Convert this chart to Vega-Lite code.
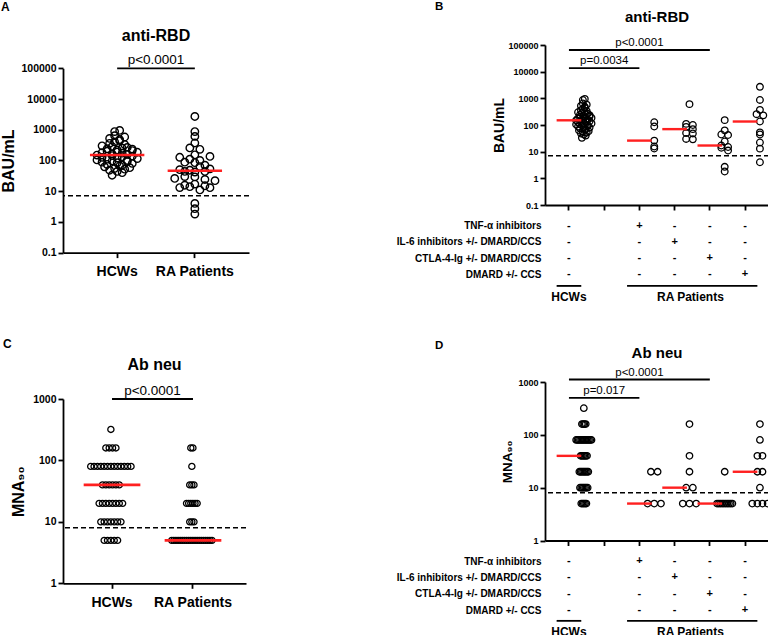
{
 "$schema": "https://vega.github.io/schema/vega-lite/v6.json",
 "background": "white",
 "padding": {"left": 0, "top": 0, "right": 0, "bottom": 0},
 "config": {
  "font": "Liberation Sans",
  "view": {"stroke": null},
  "axis": {"grid": false, "domainColor": "#000000", "domainWidth": 1.8, "tickColor": "#000000", "tickWidth": 1.8, "tickSize": 5, "labelColor": "#000000", "labelFontWeight": "bold", "titleColor": "#000000", "titleFontWeight": "bold", "labelOverlap": false, "labelFlush": false},
  "title": {"color": "#000000", "fontWeight": "bold"},
  "text": {"color": "#000000"}
 },
 "datasets": {
  "rbd": [
   {"cohort": "HCWs", "therapy": "HCWs", "value": 150}, {"cohort": "HCWs", "therapy": "HCWs", "value": 62}, {"cohort": "HCWs", "therapy": "HCWs", "value": 300}, {"cohort": "HCWs", "therapy": "HCWs", "value": 104}, {"cohort": "HCWs", "therapy": "HCWs", "value": 870}, {"cohort": "HCWs", "therapy": "HCWs", "value": 180}, {"cohort": "HCWs", "therapy": "HCWs", "value": 48}, {"cohort": "HCWs", "therapy": "HCWs", "value": 126}, {"cohort": "HCWs", "therapy": "HCWs", "value": 240}, {"cohort": "HCWs", "therapy": "HCWs", "value": 88},
   {"cohort": "HCWs", "therapy": "HCWs", "value": 360}, {"cohort": "HCWs", "therapy": "HCWs", "value": 110}, {"cohort": "HCWs", "therapy": "HCWs", "value": 33}, {"cohort": "HCWs", "therapy": "HCWs", "value": 200}, {"cohort": "HCWs", "therapy": "HCWs", "value": 75}, {"cohort": "HCWs", "therapy": "HCWs", "value": 520}, {"cohort": "HCWs", "therapy": "HCWs", "value": 144}, {"cohort": "HCWs", "therapy": "HCWs", "value": 165}, {"cohort": "HCWs", "therapy": "HCWs", "value": 55}, {"cohort": "HCWs", "therapy": "HCWs", "value": 280},
   {"cohort": "HCWs", "therapy": "HCWs", "value": 96}, {"cohort": "HCWs", "therapy": "HCWs", "value": 190}, {"cohort": "HCWs", "therapy": "HCWs", "value": 400}, {"cohort": "HCWs", "therapy": "HCWs", "value": 120}, {"cohort": "HCWs", "therapy": "HCWs", "value": 66}, {"cohort": "HCWs", "therapy": "HCWs", "value": 950}, {"cohort": "HCWs", "therapy": "HCWs", "value": 132}, {"cohort": "HCWs", "therapy": "HCWs", "value": 220}, {"cohort": "HCWs", "therapy": "HCWs", "value": 84}, {"cohort": "HCWs", "therapy": "HCWs", "value": 172},
   {"cohort": "HCWs", "therapy": "HCWs", "value": 52}, {"cohort": "HCWs", "therapy": "HCWs", "value": 440}, {"cohort": "HCWs", "therapy": "HCWs", "value": 100}, {"cohort": "HCWs", "therapy": "HCWs", "value": 250}, {"cohort": "HCWs", "therapy": "HCWs", "value": 158}, {"cohort": "HCWs", "therapy": "HCWs", "value": 70}, {"cohort": "HCWs", "therapy": "HCWs", "value": 640}, {"cohort": "HCWs", "therapy": "HCWs", "value": 138}, {"cohort": "HCWs", "therapy": "HCWs", "value": 44}, {"cohort": "HCWs", "therapy": "HCWs", "value": 210},
   {"cohort": "HCWs", "therapy": "HCWs", "value": 92}, {"cohort": "HCWs", "therapy": "HCWs", "value": 330}, {"cohort": "HCWs", "therapy": "HCWs", "value": 115}, {"cohort": "HCWs", "therapy": "HCWs", "value": 185}, {"cohort": "HCWs", "therapy": "HCWs", "value": 58}, {"cohort": "HCWs", "therapy": "HCWs", "value": 480}, {"cohort": "HCWs", "therapy": "HCWs", "value": 265}, {"cohort": "HCWs", "therapy": "HCWs", "value": 80}, {"cohort": "HCWs", "therapy": "HCWs", "value": 235}, {"cohort": "HCWs", "therapy": "HCWs", "value": 40},
   {"cohort": "HCWs", "therapy": "HCWs", "value": 580},
   {"cohort": "RA Patients", "therapy": "TNF-α inhibitors", "value": 127}, {"cohort": "RA Patients", "therapy": "TNF-α inhibitors", "value": 88}, {"cohort": "RA Patients", "therapy": "TNF-α inhibitors", "value": 26}, {"cohort": "RA Patients", "therapy": "TNF-α inhibitors", "value": 15.6}, {"cohort": "RA Patients", "therapy": "TNF-α inhibitors", "value": 13.1},
   {"cohort": "RA Patients", "therapy": "IL-6 inhibitors +/- DMARD/CCS", "value": 605}, {"cohort": "RA Patients", "therapy": "IL-6 inhibitors +/- DMARD/CCS", "value": 110}, {"cohort": "RA Patients", "therapy": "IL-6 inhibitors +/- DMARD/CCS", "value": 100}, {"cohort": "RA Patients", "therapy": "IL-6 inhibitors +/- DMARD/CCS", "value": 85}, {"cohort": "RA Patients", "therapy": "IL-6 inhibitors +/- DMARD/CCS", "value": 70}, {"cohort": "RA Patients", "therapy": "IL-6 inhibitors +/- DMARD/CCS", "value": 50}, {"cohort": "RA Patients", "therapy": "IL-6 inhibitors +/- DMARD/CCS", "value": 48}, {"cohort": "RA Patients", "therapy": "IL-6 inhibitors +/- DMARD/CCS", "value": 30}, {"cohort": "RA Patients", "therapy": "IL-6 inhibitors +/- DMARD/CCS", "value": 29},
   {"cohort": "RA Patients", "therapy": "CTLA-4-Ig +/- DMARD/CCS", "value": 152}, {"cohort": "RA Patients", "therapy": "CTLA-4-Ig +/- DMARD/CCS", "value": 63}, {"cohort": "RA Patients", "therapy": "CTLA-4-Ig +/- DMARD/CCS", "value": 44}, {"cohort": "RA Patients", "therapy": "CTLA-4-Ig +/- DMARD/CCS", "value": 42}, {"cohort": "RA Patients", "therapy": "CTLA-4-Ig +/- DMARD/CCS", "value": 24}, {"cohort": "RA Patients", "therapy": "CTLA-4-Ig +/- DMARD/CCS", "value": 17}, {"cohort": "RA Patients", "therapy": "CTLA-4-Ig +/- DMARD/CCS", "value": 15}, {"cohort": "RA Patients", "therapy": "CTLA-4-Ig +/- DMARD/CCS", "value": 14}, {"cohort": "RA Patients", "therapy": "CTLA-4-Ig +/- DMARD/CCS", "value": 11}, {"cohort": "RA Patients", "therapy": "CTLA-4-Ig +/- DMARD/CCS", "value": 2.7}, {"cohort": "RA Patients", "therapy": "CTLA-4-Ig +/- DMARD/CCS", "value": 1.8},
   {"cohort": "RA Patients", "therapy": "DMARD +/- CCS", "value": 2700}, {"cohort": "RA Patients", "therapy": "DMARD +/- CCS", "value": 870}, {"cohort": "RA Patients", "therapy": "DMARD +/- CCS", "value": 370}, {"cohort": "RA Patients", "therapy": "DMARD +/- CCS", "value": 255}, {"cohort": "RA Patients", "therapy": "DMARD +/- CCS", "value": 230}, {"cohort": "RA Patients", "therapy": "DMARD +/- CCS", "value": 135}, {"cohort": "RA Patients", "therapy": "DMARD +/- CCS", "value": 53}, {"cohort": "RA Patients", "therapy": "DMARD +/- CCS", "value": 44}, {"cohort": "RA Patients", "therapy": "DMARD +/- CCS", "value": 22}, {"cohort": "RA Patients", "therapy": "DMARD +/- CCS", "value": 13}, {"cohort": "RA Patients", "therapy": "DMARD +/- CCS", "value": 4}
  ],
  "mna": [
   {"cohort": "HCWs", "therapy": "HCWs", "value": 320},
   {"cohort": "HCWs", "therapy": "HCWs", "value": 160}, {"cohort": "HCWs", "therapy": "HCWs", "value": 160}, {"cohort": "HCWs", "therapy": "HCWs", "value": 160}, {"cohort": "HCWs", "therapy": "HCWs", "value": 160},
   {"cohort": "HCWs", "therapy": "HCWs", "value": 80}, {"cohort": "HCWs", "therapy": "HCWs", "value": 80}, {"cohort": "HCWs", "therapy": "HCWs", "value": 80}, {"cohort": "HCWs", "therapy": "HCWs", "value": 80}, {"cohort": "HCWs", "therapy": "HCWs", "value": 80}, {"cohort": "HCWs", "therapy": "HCWs", "value": 80}, {"cohort": "HCWs", "therapy": "HCWs", "value": 80}, {"cohort": "HCWs", "therapy": "HCWs", "value": 80}, {"cohort": "HCWs", "therapy": "HCWs", "value": 80}, {"cohort": "HCWs", "therapy": "HCWs", "value": 80}, {"cohort": "HCWs", "therapy": "HCWs", "value": 80}, {"cohort": "HCWs", "therapy": "HCWs", "value": 80}, {"cohort": "HCWs", "therapy": "HCWs", "value": 80},
   {"cohort": "HCWs", "therapy": "HCWs", "value": 40}, {"cohort": "HCWs", "therapy": "HCWs", "value": 40}, {"cohort": "HCWs", "therapy": "HCWs", "value": 40}, {"cohort": "HCWs", "therapy": "HCWs", "value": 40}, {"cohort": "HCWs", "therapy": "HCWs", "value": 40}, {"cohort": "HCWs", "therapy": "HCWs", "value": 40},
   {"cohort": "HCWs", "therapy": "HCWs", "value": 20}, {"cohort": "HCWs", "therapy": "HCWs", "value": 20}, {"cohort": "HCWs", "therapy": "HCWs", "value": 20}, {"cohort": "HCWs", "therapy": "HCWs", "value": 20}, {"cohort": "HCWs", "therapy": "HCWs", "value": 20}, {"cohort": "HCWs", "therapy": "HCWs", "value": 20}, {"cohort": "HCWs", "therapy": "HCWs", "value": 20}, {"cohort": "HCWs", "therapy": "HCWs", "value": 20},
   {"cohort": "HCWs", "therapy": "HCWs", "value": 10}, {"cohort": "HCWs", "therapy": "HCWs", "value": 10}, {"cohort": "HCWs", "therapy": "HCWs", "value": 10}, {"cohort": "HCWs", "therapy": "HCWs", "value": 10}, {"cohort": "HCWs", "therapy": "HCWs", "value": 10}, {"cohort": "HCWs", "therapy": "HCWs", "value": 10}, {"cohort": "HCWs", "therapy": "HCWs", "value": 10},
   {"cohort": "HCWs", "therapy": "HCWs", "value": 5}, {"cohort": "HCWs", "therapy": "HCWs", "value": 5}, {"cohort": "HCWs", "therapy": "HCWs", "value": 5}, {"cohort": "HCWs", "therapy": "HCWs", "value": 5}, {"cohort": "HCWs", "therapy": "HCWs", "value": 5},
   {"cohort": "RA Patients", "therapy": "TNF-α inhibitors", "value": 20}, {"cohort": "RA Patients", "therapy": "TNF-α inhibitors", "value": 20}, {"cohort": "RA Patients", "therapy": "TNF-α inhibitors", "value": 5}, {"cohort": "RA Patients", "therapy": "TNF-α inhibitors", "value": 5}, {"cohort": "RA Patients", "therapy": "TNF-α inhibitors", "value": 5},
   {"cohort": "RA Patients", "therapy": "IL-6 inhibitors +/- DMARD/CCS", "value": 160}, {"cohort": "RA Patients", "therapy": "IL-6 inhibitors +/- DMARD/CCS", "value": 40}, {"cohort": "RA Patients", "therapy": "IL-6 inhibitors +/- DMARD/CCS", "value": 20}, {"cohort": "RA Patients", "therapy": "IL-6 inhibitors +/- DMARD/CCS", "value": 10}, {"cohort": "RA Patients", "therapy": "IL-6 inhibitors +/- DMARD/CCS", "value": 10}, {"cohort": "RA Patients", "therapy": "IL-6 inhibitors +/- DMARD/CCS", "value": 5}, {"cohort": "RA Patients", "therapy": "IL-6 inhibitors +/- DMARD/CCS", "value": 5}, {"cohort": "RA Patients", "therapy": "IL-6 inhibitors +/- DMARD/CCS", "value": 5},
   {"cohort": "RA Patients", "therapy": "CTLA-4-Ig +/- DMARD/CCS", "value": 20}, {"cohort": "RA Patients", "therapy": "CTLA-4-Ig +/- DMARD/CCS", "value": 5}, {"cohort": "RA Patients", "therapy": "CTLA-4-Ig +/- DMARD/CCS", "value": 5}, {"cohort": "RA Patients", "therapy": "CTLA-4-Ig +/- DMARD/CCS", "value": 5}, {"cohort": "RA Patients", "therapy": "CTLA-4-Ig +/- DMARD/CCS", "value": 5}, {"cohort": "RA Patients", "therapy": "CTLA-4-Ig +/- DMARD/CCS", "value": 5}, {"cohort": "RA Patients", "therapy": "CTLA-4-Ig +/- DMARD/CCS", "value": 5}, {"cohort": "RA Patients", "therapy": "CTLA-4-Ig +/- DMARD/CCS", "value": 5}, {"cohort": "RA Patients", "therapy": "CTLA-4-Ig +/- DMARD/CCS", "value": 5}, {"cohort": "RA Patients", "therapy": "CTLA-4-Ig +/- DMARD/CCS", "value": 5}, {"cohort": "RA Patients", "therapy": "CTLA-4-Ig +/- DMARD/CCS", "value": 5},
   {"cohort": "RA Patients", "therapy": "DMARD +/- CCS", "value": 160}, {"cohort": "RA Patients", "therapy": "DMARD +/- CCS", "value": 80}, {"cohort": "RA Patients", "therapy": "DMARD +/- CCS", "value": 40}, {"cohort": "RA Patients", "therapy": "DMARD +/- CCS", "value": 40}, {"cohort": "RA Patients", "therapy": "DMARD +/- CCS", "value": 20}, {"cohort": "RA Patients", "therapy": "DMARD +/- CCS", "value": 20}, {"cohort": "RA Patients", "therapy": "DMARD +/- CCS", "value": 10}, {"cohort": "RA Patients", "therapy": "DMARD +/- CCS", "value": 5}, {"cohort": "RA Patients", "therapy": "DMARD +/- CCS", "value": 5}, {"cohort": "RA Patients", "therapy": "DMARD +/- CCS", "value": 5}, {"cohort": "RA Patients", "therapy": "DMARD +/- CCS", "value": 5}
  ],
  "sigA": [{"from": "HCWs", "to": "RA Patients", "value": 100000, "p": "p<0.0001"}],
  "sigB": [{"from": "HCWs", "to": "CTLA-4-Ig +/- DMARD/CCS", "mid": "TNF-α inhibitors", "value": 65000, "p": "p<0.0001"}, {"from": "HCWs", "to": "TNF-α inhibitors", "mid": " ", "value": 13600, "p": "p=0.0034"}],
  "sigC": [{"from": "HCWs", "to": "RA Patients", "value": 1000, "p": "p<0.0001"}],
  "sigD": [{"from": "HCWs", "to": "CTLA-4-Ig +/- DMARD/CCS", "mid": "TNF-α inhibitors", "value": 1115, "p": "p<0.0001"}, {"from": "HCWs", "to": "TNF-α inhibitors", "mid": " ", "value": 500, "p": "p=0.017"}],
  "signs": [
   {"row": "TNF-α inhibitors", "col": "HCWs", "sign": "-"}, {"row": "TNF-α inhibitors", "col": "TNF-α inhibitors", "sign": "+"}, {"row": "TNF-α inhibitors", "col": "IL-6 inhibitors +/- DMARD/CCS", "sign": "-"}, {"row": "TNF-α inhibitors", "col": "CTLA-4-Ig +/- DMARD/CCS", "sign": "-"}, {"row": "TNF-α inhibitors", "col": "DMARD +/- CCS", "sign": "-"},
   {"row": "IL-6 inhibitors +/- DMARD/CCS", "col": "HCWs", "sign": "-"}, {"row": "IL-6 inhibitors +/- DMARD/CCS", "col": "TNF-α inhibitors", "sign": "-"}, {"row": "IL-6 inhibitors +/- DMARD/CCS", "col": "IL-6 inhibitors +/- DMARD/CCS", "sign": "+"}, {"row": "IL-6 inhibitors +/- DMARD/CCS", "col": "CTLA-4-Ig +/- DMARD/CCS", "sign": "-"}, {"row": "IL-6 inhibitors +/- DMARD/CCS", "col": "DMARD +/- CCS", "sign": "-"},
   {"row": "CTLA-4-Ig +/- DMARD/CCS", "col": "HCWs", "sign": "-"}, {"row": "CTLA-4-Ig +/- DMARD/CCS", "col": "TNF-α inhibitors", "sign": "-"}, {"row": "CTLA-4-Ig +/- DMARD/CCS", "col": "IL-6 inhibitors +/- DMARD/CCS", "sign": "-"}, {"row": "CTLA-4-Ig +/- DMARD/CCS", "col": "CTLA-4-Ig +/- DMARD/CCS", "sign": "+"}, {"row": "CTLA-4-Ig +/- DMARD/CCS", "col": "DMARD +/- CCS", "sign": "-"},
   {"row": "DMARD +/- CCS", "col": "HCWs", "sign": "-"}, {"row": "DMARD +/- CCS", "col": "TNF-α inhibitors", "sign": "-"}, {"row": "DMARD +/- CCS", "col": "IL-6 inhibitors +/- DMARD/CCS", "sign": "-"}, {"row": "DMARD +/- CCS", "col": "CTLA-4-Ig +/- DMARD/CCS", "sign": "-"}, {"row": "DMARD +/- CCS", "col": "DMARD +/- CCS", "sign": "+"}
  ],
  "cohorts": [
   {"row": "cohort", "col": "HCWs", "col2": "HCWs", "label": "HCWs"},
   {"row": "cohort", "col": "TNF-α inhibitors", "col2": "DMARD +/- CCS", "label": "RA Patients"}
  ]
 },
 "spacing": 146,
 "hconcat": [
  {
   "spacing": 59,
   "vconcat": [
    {
     "title": {"text": "A", "anchor": "start", "frame": "group", "fontSize": 12, "offset": 14, "dx": -62},
     "vconcat": [{
      "width": 186, "height": 207.6,
      "title": {"text": "anti-RBD", "fontSize": 16, "offset": 1},
      "encoding": {"y": {"field": "value", "type": "quantitative", "scale": {"type": "log", "domain": [0.1, 100000], "range": [207.6, 23.3], "nice": false}, "axis": {"title": "BAU/mL", "titleFontSize": 16, "titlePadding": 4, "values": [0.1, 1, 10, 100, 1000, 10000, 100000], "format": "~g", "labelFontSize": 10.5, "labelPadding": 2}}},
      "layer": [
       {"data": {"values": [{"value": 7.1}]}, "mark": {"type": "rule", "strokeDash": [5, 3], "strokeWidth": 1.5, "color": "#000000"}, "encoding": {}},
       {"data": {"name": "rbd"},
        "transform": [
         {"calculate": "floor(log(datum.value) / LN10 * 6)", "as": "bin"},
         {"window": [{"op": "row_number", "as": "k"}, {"op": "count", "as": "n"}], "groupby": ["cohort", "bin"], "frame": [null, null]},
         {"joinaggregate": [{"op": "max", "field": "n", "as": "maxn"}], "groupby": ["cohort"]},
         {"calculate": "(datum.k - (datum.n + 1) / 2) * min(11, 42 / max(1, datum.maxn - 1))", "as": "off"}
        ],
        "mark": {"type": "point", "shape": "circle", "filled": false, "color": "#000000", "strokeWidth": 1.4, "size": 55, "opacity": 1},
        "encoding": {
         "x": {"field": "cohort", "type": "nominal", "scale": {"domain": ["HCWs", "RA Patients"], "paddingInner": 0.3, "paddingOuter": 0.347}, "axis": {"title": null, "labelFontSize": 14, "labelPadding": 7, "labelAngle": 0}},
         "xOffset": {"field": "off", "type": "quantitative", "scale": {"domain": [-27.2, 27.2], "range": [0, 54.4]}}
        }},
       {"data": {"name": "rbd"},
        "transform": [{"aggregate": [{"op": "median", "field": "value", "as": "value"}], "groupby": ["cohort"]}],
        "mark": {"type": "rule", "color": "#ff2020", "strokeWidth": 2.6},
        "encoding": {
         "x": {"field": "cohort", "type": "nominal", "bandPosition": 0, "scale": {"domain": ["HCWs", "RA Patients"], "paddingInner": 0.3, "paddingOuter": 0.347}, "axis": {"title": null, "labelFontSize": 14, "labelPadding": 7, "labelAngle": 0}},
         "x2": {"field": "cohort", "bandPosition": 1}
        }},
       {"data": {"name": "sigA"}, "mark": {"type": "rule", "color": "#000000", "strokeWidth": 1.8},
        "encoding": {
         "x": {"field": "from", "type": "nominal", "scale": {"domain": ["HCWs", "RA Patients"], "paddingInner": 0.3, "paddingOuter": 0.347}, "axis": {"title": null, "labelFontSize": 14, "labelPadding": 7, "labelAngle": 0}},
         "x2": {"field": "to"}
        }},
       {"data": {"name": "sigA"}, "mark": {"type": "text", "fontSize": 13.5, "dy": -4, "baseline": "alphabetic"},
        "encoding": {
         "x": {"field": "from", "type": "nominal", "bandPosition": 1.215, "scale": {"domain": ["HCWs", "RA Patients"], "paddingInner": 0.3, "paddingOuter": 0.347}, "axis": {"title": null, "labelFontSize": 14, "labelPadding": 7, "labelAngle": 0}},
         "text": {"field": "p"}
        }}
      ]
     }]
    },
    {
     "title": {"text": "C", "anchor": "start", "frame": "group", "fontSize": 12, "offset": 6, "dx": -60},
     "vconcat": [{
      "width": 183, "height": 184.3,
      "title": {"text": "Ab neu", "fontSize": 16, "offset": 11},
      "encoding": {"y": {"field": "value", "type": "quantitative", "scale": {"type": "log", "domain": [1, 1000], "nice": false}, "axis": {"title": "MNA₉₀", "titleFontSize": 16, "titlePadding": 6, "values": [1, 10, 100, 1000], "format": "~g", "labelFontSize": 10.5, "labelPadding": 2}}},
      "layer": [
       {"data": {"values": [{"value": 8}]}, "mark": {"type": "rule", "strokeDash": [5, 3], "strokeWidth": 1.5, "color": "#000000"}, "encoding": {}},
       {"data": {"name": "mna"},
        "transform": [
         {"window": [{"op": "row_number", "as": "k"}, {"op": "count", "as": "n"}], "groupby": ["cohort", "value"], "frame": [null, null]},
         {"joinaggregate": [{"op": "max", "field": "n", "as": "maxn"}], "groupby": ["cohort"]},
         {"calculate": "(datum.k - (datum.n + 1) / 2) * min(3.8, 42 / max(1, datum.maxn - 1))", "as": "off"}
        ],
        "mark": {"type": "point", "shape": "circle", "filled": false, "color": "#000000", "strokeWidth": 1.3, "size": 38, "opacity": 1},
        "encoding": {
         "x": {"field": "cohort", "type": "nominal", "scale": {"domain": ["HCWs", "RA Patients"], "paddingInner": 0.3, "paddingOuter": 0.28, "align": 0.456}, "axis": {"title": null, "labelFontSize": 14, "labelPadding": 7, "labelAngle": 0}},
         "xOffset": {"field": "off", "type": "quantitative", "scale": {"domain": [-28.35, 28.35], "range": [0, 56.7]}}
        }},
       {"data": {"name": "mna"},
        "transform": [{"aggregate": [{"op": "median", "field": "value", "as": "value"}], "groupby": ["cohort"]}],
        "mark": {"type": "rule", "color": "#ff2020", "strokeWidth": 2.6},
        "encoding": {
         "x": {"field": "cohort", "type": "nominal", "bandPosition": 0, "scale": {"domain": ["HCWs", "RA Patients"], "paddingInner": 0.3, "paddingOuter": 0.28, "align": 0.456}, "axis": {"title": null, "labelFontSize": 14, "labelPadding": 7, "labelAngle": 0}},
         "x2": {"field": "cohort", "bandPosition": 1}
        }},
       {"data": {"name": "sigC"}, "mark": {"type": "rule", "color": "#000000", "strokeWidth": 1.8},
        "encoding": {
         "x": {"field": "from", "type": "nominal", "scale": {"domain": ["HCWs", "RA Patients"], "paddingInner": 0.3, "paddingOuter": 0.28, "align": 0.456}, "axis": {"title": null, "labelFontSize": 14, "labelPadding": 7, "labelAngle": 0}},
         "x2": {"field": "to"}
        }},
       {"data": {"name": "sigC"}, "mark": {"type": "text", "fontSize": 13.5, "dy": -4, "baseline": "alphabetic"},
        "encoding": {
         "x": {"field": "from", "type": "nominal", "bandPosition": 1.214, "scale": {"domain": ["HCWs", "RA Patients"], "paddingInner": 0.3, "paddingOuter": 0.28, "align": 0.456}, "axis": {"title": null, "labelFontSize": 14, "labelPadding": 7, "labelAngle": 0}},
         "text": {"field": "p"}
        }}
      ]
     }]
    }
   ]
  },
  {
   "spacing": 36,
   "vconcat": [
    {
     "title": {"text": "B", "anchor": "start", "frame": "group", "fontSize": 11.5, "offset": -2, "dx": -110},
     "spacing": 6.5,
     "vconcat": [
      {
       "width": 224, "height": 160,
       "title": {"text": "anti-RBD", "fontSize": 15, "offset": 11.7},
       "encoding": {"y": {"field": "value", "type": "quantitative", "scale": {"type": "log", "domain": [0.1, 100000], "nice": false}, "axis": {"title": "BAU/mL", "titleFontSize": 14, "titlePadding": 1, "values": [0.1, 1, 10, 100, 1000, 10000, 100000], "format": "~g", "labelFontSize": 9, "labelPadding": 2}}},
       "layer": [
        {"data": {"values": [{"value": 7.1}]}, "mark": {"type": "rule", "strokeDash": [5, 3], "strokeWidth": 1.5, "color": "#000000"}, "encoding": {}},
        {"data": {"name": "rbd"},
         "transform": [
          {"calculate": "floor(log(datum.value) / LN10 * 6)", "as": "bin"},
          {"window": [{"op": "row_number", "as": "k"}, {"op": "count", "as": "n"}], "groupby": ["therapy", "bin"], "frame": [null, null]},
          {"joinaggregate": [{"op": "max", "field": "n", "as": "maxn"}], "groupby": ["therapy"]},
          {"calculate": "(datum.k - (datum.n + 1) / 2) * min(7, 16 / max(1, datum.maxn - 1))", "as": "off"}
         ],
         "mark": {"type": "point", "shape": "circle", "filled": false, "color": "#000000", "strokeWidth": 1.3, "size": 44, "opacity": 1},
         "encoding": {
          "x": {"field": "therapy", "type": "nominal", "scale": {"domain": ["HCWs", " ", "TNF-α inhibitors", "IL-6 inhibitors +/- DMARD/CCS", "CTLA-4-Ig +/- DMARD/CCS", "DMARD +/- CCS"], "paddingInner": 0.3, "paddingOuter": 0.33}, "axis": {"title": null, "labels": false}},
          "xOffset": {"field": "off", "type": "quantitative", "scale": {"domain": [-12.3, 12.3], "range": [0, 24.6]}}
         }},
        {"data": {"name": "rbd"},
         "transform": [{"aggregate": [{"op": "median", "field": "value", "as": "value"}], "groupby": ["therapy"]}],
         "mark": {"type": "rule", "color": "#ff2020", "strokeWidth": 2.4},
         "encoding": {
          "x": {"field": "therapy", "type": "nominal", "bandPosition": 0, "scale": {"domain": ["HCWs", " ", "TNF-α inhibitors", "IL-6 inhibitors +/- DMARD/CCS", "CTLA-4-Ig +/- DMARD/CCS", "DMARD +/- CCS"], "paddingInner": 0.3, "paddingOuter": 0.33}, "axis": {"title": null, "labels": false}},
          "x2": {"field": "therapy", "bandPosition": 1}
         }},
        {"data": {"name": "sigB"}, "mark": {"type": "rule", "color": "#000000", "strokeWidth": 1.8},
         "encoding": {
          "x": {"field": "from", "type": "nominal", "scale": {"domain": ["HCWs", " ", "TNF-α inhibitors", "IL-6 inhibitors +/- DMARD/CCS", "CTLA-4-Ig +/- DMARD/CCS", "DMARD +/- CCS"], "paddingInner": 0.3, "paddingOuter": 0.33}, "axis": {"title": null, "labels": false}},
          "x2": {"field": "to"}
         }},
        {"data": {"name": "sigB"}, "mark": {"type": "text", "fontSize": 11.5, "dy": -4, "baseline": "alphabetic"},
         "encoding": {
          "x": {"field": "mid", "type": "nominal", "scale": {"domain": ["HCWs", " ", "TNF-α inhibitors", "IL-6 inhibitors +/- DMARD/CCS", "CTLA-4-Ig +/- DMARD/CCS", "DMARD +/- CCS"], "paddingInner": 0.3, "paddingOuter": 0.33}, "axis": {"title": null, "labels": false}},
          "text": {"field": "p"}
         }}
       ]
      },
      {
       "width": 224, "height": 81.25,
       "layer": [
        {"data": {"name": "signs"}, "mark": {"type": "text", "fontSize": 11, "fontWeight": "bold", "baseline": "middle"},
         "encoding": {
          "x": {"field": "col", "type": "nominal", "scale": {"domain": ["HCWs", " ", "TNF-α inhibitors", "IL-6 inhibitors +/- DMARD/CCS", "CTLA-4-Ig +/- DMARD/CCS", "DMARD +/- CCS"], "paddingInner": 0.3, "paddingOuter": 0.33}, "axis": null},
          "y": {"field": "row", "type": "nominal", "scale": {"type": "point", "domain": ["TNF-α inhibitors", "IL-6 inhibitors +/- DMARD/CCS", "CTLA-4-Ig +/- DMARD/CCS", "DMARD +/- CCS", "cohort"], "padding": 0.5}, "axis": {"title": null, "values": ["TNF-α inhibitors", "IL-6 inhibitors +/- DMARD/CCS", "CTLA-4-Ig +/- DMARD/CCS", "DMARD +/- CCS"], "domain": false, "ticks": false, "labelFontSize": 10, "labelPadding": 4}},
          "text": {"field": "sign"}
         }},
        {"data": {"name": "cohorts"}, "mark": {"type": "rule", "color": "#000000", "strokeWidth": 1.8, "yOffset": -4.7},
         "encoding": {
          "x": {"field": "col", "type": "nominal", "bandPosition": 0, "scale": {"domain": ["HCWs", " ", "TNF-α inhibitors", "IL-6 inhibitors +/- DMARD/CCS", "CTLA-4-Ig +/- DMARD/CCS", "DMARD +/- CCS"], "paddingInner": 0.3, "paddingOuter": 0.33}, "axis": null},
          "x2": {"field": "col2", "bandPosition": 1},
          "y": {"field": "row", "type": "nominal", "scale": {"type": "point", "domain": ["TNF-α inhibitors", "IL-6 inhibitors +/- DMARD/CCS", "CTLA-4-Ig +/- DMARD/CCS", "DMARD +/- CCS", "cohort"], "padding": 0.5}, "axis": {"title": null, "values": ["TNF-α inhibitors", "IL-6 inhibitors +/- DMARD/CCS", "CTLA-4-Ig +/- DMARD/CCS", "DMARD +/- CCS"], "domain": false, "ticks": false, "labelFontSize": 10, "labelPadding": 4}}
         }},
        {"data": {"name": "cohorts"}, "transform": [{"filter": "datum.label == 'HCWs'"}], "mark": {"type": "text", "fontSize": 12, "fontWeight": "bold", "baseline": "middle", "dy": 6},
         "encoding": {
          "x": {"field": "col", "type": "nominal", "scale": {"domain": ["HCWs", " ", "TNF-α inhibitors", "IL-6 inhibitors +/- DMARD/CCS", "CTLA-4-Ig +/- DMARD/CCS", "DMARD +/- CCS"], "paddingInner": 0.3, "paddingOuter": 0.33}, "axis": null},
          "y": {"field": "row", "type": "nominal", "scale": {"type": "point", "domain": ["TNF-α inhibitors", "IL-6 inhibitors +/- DMARD/CCS", "CTLA-4-Ig +/- DMARD/CCS", "DMARD +/- CCS", "cohort"], "padding": 0.5}, "axis": {"title": null, "values": ["TNF-α inhibitors", "IL-6 inhibitors +/- DMARD/CCS", "CTLA-4-Ig +/- DMARD/CCS", "DMARD +/- CCS"], "domain": false, "ticks": false, "labelFontSize": 10, "labelPadding": 4}},
          "text": {"field": "label"}
         }},
        {"data": {"name": "cohorts"}, "transform": [{"filter": "datum.label != 'HCWs'"}], "mark": {"type": "text", "fontSize": 12, "fontWeight": "bold", "baseline": "middle", "dy": 6},
         "encoding": {
          "x": {"field": "col", "type": "nominal", "bandPosition": 2.57, "scale": {"domain": ["HCWs", " ", "TNF-α inhibitors", "IL-6 inhibitors +/- DMARD/CCS", "CTLA-4-Ig +/- DMARD/CCS", "DMARD +/- CCS"], "paddingInner": 0.3, "paddingOuter": 0.33}, "axis": null},
          "y": {"field": "row", "type": "nominal", "scale": {"type": "point", "domain": ["TNF-α inhibitors", "IL-6 inhibitors +/- DMARD/CCS", "CTLA-4-Ig +/- DMARD/CCS", "DMARD +/- CCS", "cohort"], "padding": 0.5}, "axis": {"title": null, "values": ["TNF-α inhibitors", "IL-6 inhibitors +/- DMARD/CCS", "CTLA-4-Ig +/- DMARD/CCS", "DMARD +/- CCS"], "domain": false, "ticks": false, "labelFontSize": 10, "labelPadding": 4}},
          "text": {"field": "label"}
         }}
       ]
      }
     ]
    },
    {
     "title": {"text": "D", "anchor": "start", "frame": "group", "fontSize": 11.5, "offset": -5, "dx": -110},
     "spacing": 6,
     "vconcat": [
      {
       "width": 224, "height": 158.5,
       "title": {"text": "Ab neu", "fontSize": 15, "offset": 5.2},
       "encoding": {"y": {"field": "value", "type": "quantitative", "scale": {"type": "log", "domain": [1, 1000], "nice": false}, "axis": {"title": "MNA₉₀", "titleFontSize": 13.5, "titlePadding": 3, "values": [1, 10, 100, 1000], "format": "~g", "labelFontSize": 9, "labelPadding": 2}}},
       "layer": [
        {"data": {"values": [{"value": 8}]}, "mark": {"type": "rule", "strokeDash": [5, 3], "strokeWidth": 1.5, "color": "#000000"}, "encoding": {}},
        {"data": {"name": "mna"},
         "transform": [
          {"window": [{"op": "row_number", "as": "k"}, {"op": "count", "as": "n"}], "groupby": ["therapy", "value"], "frame": [null, null]},
          {"joinaggregate": [{"op": "max", "field": "n", "as": "maxn"}], "groupby": ["therapy"]},
          {"calculate": "(datum.k - (datum.n + 1) / 2) * min(7, 16 / max(1, datum.maxn - 1))", "as": "off"}
         ],
         "mark": {"type": "point", "shape": "circle", "filled": false, "color": "#000000", "strokeWidth": 1.3, "size": 42, "opacity": 1},
         "encoding": {
          "x": {"field": "therapy", "type": "nominal", "scale": {"domain": ["HCWs", " ", "TNF-α inhibitors", "IL-6 inhibitors +/- DMARD/CCS", "CTLA-4-Ig +/- DMARD/CCS", "DMARD +/- CCS"], "paddingInner": 0.3, "paddingOuter": 0.33}, "axis": {"title": null, "labels": false}},
          "xOffset": {"field": "off", "type": "quantitative", "scale": {"domain": [-12.3, 12.3], "range": [0, 24.6]}}
         }},
        {"data": {"name": "mna"},
         "transform": [{"aggregate": [{"op": "median", "field": "value", "as": "value"}], "groupby": ["therapy"]}],
         "mark": {"type": "rule", "color": "#ff2020", "strokeWidth": 2.4},
         "encoding": {
          "x": {"field": "therapy", "type": "nominal", "bandPosition": 0, "scale": {"domain": ["HCWs", " ", "TNF-α inhibitors", "IL-6 inhibitors +/- DMARD/CCS", "CTLA-4-Ig +/- DMARD/CCS", "DMARD +/- CCS"], "paddingInner": 0.3, "paddingOuter": 0.33}, "axis": {"title": null, "labels": false}},
          "x2": {"field": "therapy", "bandPosition": 1}
         }},
        {"data": {"name": "sigD"}, "mark": {"type": "rule", "color": "#000000", "strokeWidth": 1.8},
         "encoding": {
          "x": {"field": "from", "type": "nominal", "scale": {"domain": ["HCWs", " ", "TNF-α inhibitors", "IL-6 inhibitors +/- DMARD/CCS", "CTLA-4-Ig +/- DMARD/CCS", "DMARD +/- CCS"], "paddingInner": 0.3, "paddingOuter": 0.33}, "axis": {"title": null, "labels": false}},
          "x2": {"field": "to"}
         }},
        {"data": {"name": "sigD"}, "mark": {"type": "text", "fontSize": 11.5, "dy": -4, "baseline": "alphabetic"},
         "encoding": {
          "x": {"field": "mid", "type": "nominal", "scale": {"domain": ["HCWs", " ", "TNF-α inhibitors", "IL-6 inhibitors +/- DMARD/CCS", "CTLA-4-Ig +/- DMARD/CCS", "DMARD +/- CCS"], "paddingInner": 0.3, "paddingOuter": 0.33}, "axis": {"title": null, "labels": false}},
          "text": {"field": "p"}
         }}
       ]
      },
      {
       "width": 224, "height": 81.5,
       "layer": [
        {"data": {"name": "signs"}, "mark": {"type": "text", "fontSize": 11, "fontWeight": "bold", "baseline": "middle"},
         "encoding": {
          "x": {"field": "col", "type": "nominal", "scale": {"domain": ["HCWs", " ", "TNF-α inhibitors", "IL-6 inhibitors +/- DMARD/CCS", "CTLA-4-Ig +/- DMARD/CCS", "DMARD +/- CCS"], "paddingInner": 0.3, "paddingOuter": 0.33}, "axis": null},
          "y": {"field": "row", "type": "nominal", "scale": {"type": "point", "domain": ["TNF-α inhibitors", "IL-6 inhibitors +/- DMARD/CCS", "CTLA-4-Ig +/- DMARD/CCS", "DMARD +/- CCS", "cohort"], "padding": 0.5}, "axis": {"title": null, "values": ["TNF-α inhibitors", "IL-6 inhibitors +/- DMARD/CCS", "CTLA-4-Ig +/- DMARD/CCS", "DMARD +/- CCS"], "domain": false, "ticks": false, "labelFontSize": 10, "labelPadding": 4}},
          "text": {"field": "sign"}
         }},
        {"data": {"name": "cohorts"}, "mark": {"type": "rule", "color": "#000000", "strokeWidth": 1.8, "yOffset": -5.5},
         "encoding": {
          "x": {"field": "col", "type": "nominal", "bandPosition": 0, "scale": {"domain": ["HCWs", " ", "TNF-α inhibitors", "IL-6 inhibitors +/- DMARD/CCS", "CTLA-4-Ig +/- DMARD/CCS", "DMARD +/- CCS"], "paddingInner": 0.3, "paddingOuter": 0.33}, "axis": null},
          "x2": {"field": "col2", "bandPosition": 1},
          "y": {"field": "row", "type": "nominal", "scale": {"type": "point", "domain": ["TNF-α inhibitors", "IL-6 inhibitors +/- DMARD/CCS", "CTLA-4-Ig +/- DMARD/CCS", "DMARD +/- CCS", "cohort"], "padding": 0.5}, "axis": {"title": null, "values": ["TNF-α inhibitors", "IL-6 inhibitors +/- DMARD/CCS", "CTLA-4-Ig +/- DMARD/CCS", "DMARD +/- CCS"], "domain": false, "ticks": false, "labelFontSize": 10, "labelPadding": 4}}
         }},
        {"data": {"name": "cohorts"}, "transform": [{"filter": "datum.label == 'HCWs'"}], "mark": {"type": "text", "fontSize": 12, "fontWeight": "bold", "baseline": "middle", "dy": 6},
         "encoding": {
          "x": {"field": "col", "type": "nominal", "scale": {"domain": ["HCWs", " ", "TNF-α inhibitors", "IL-6 inhibitors +/- DMARD/CCS", "CTLA-4-Ig +/- DMARD/CCS", "DMARD +/- CCS"], "paddingInner": 0.3, "paddingOuter": 0.33}, "axis": null},
          "y": {"field": "row", "type": "nominal", "scale": {"type": "point", "domain": ["TNF-α inhibitors", "IL-6 inhibitors +/- DMARD/CCS", "CTLA-4-Ig +/- DMARD/CCS", "DMARD +/- CCS", "cohort"], "padding": 0.5}, "axis": {"title": null, "values": ["TNF-α inhibitors", "IL-6 inhibitors +/- DMARD/CCS", "CTLA-4-Ig +/- DMARD/CCS", "DMARD +/- CCS"], "domain": false, "ticks": false, "labelFontSize": 10, "labelPadding": 4}},
          "text": {"field": "label"}
         }},
        {"data": {"name": "cohorts"}, "transform": [{"filter": "datum.label != 'HCWs'"}], "mark": {"type": "text", "fontSize": 12, "fontWeight": "bold", "baseline": "middle", "dy": 6},
         "encoding": {
          "x": {"field": "col", "type": "nominal", "bandPosition": 2.57, "scale": {"domain": ["HCWs", " ", "TNF-α inhibitors", "IL-6 inhibitors +/- DMARD/CCS", "CTLA-4-Ig +/- DMARD/CCS", "DMARD +/- CCS"], "paddingInner": 0.3, "paddingOuter": 0.33}, "axis": null},
          "y": {"field": "row", "type": "nominal", "scale": {"type": "point", "domain": ["TNF-α inhibitors", "IL-6 inhibitors +/- DMARD/CCS", "CTLA-4-Ig +/- DMARD/CCS", "DMARD +/- CCS", "cohort"], "padding": 0.5}, "axis": {"title": null, "values": ["TNF-α inhibitors", "IL-6 inhibitors +/- DMARD/CCS", "CTLA-4-Ig +/- DMARD/CCS", "DMARD +/- CCS"], "domain": false, "ticks": false, "labelFontSize": 10, "labelPadding": 4}},
          "text": {"field": "label"}
         }}
       ]
      }
     ]
    }
   ]
  }
 ]
}
